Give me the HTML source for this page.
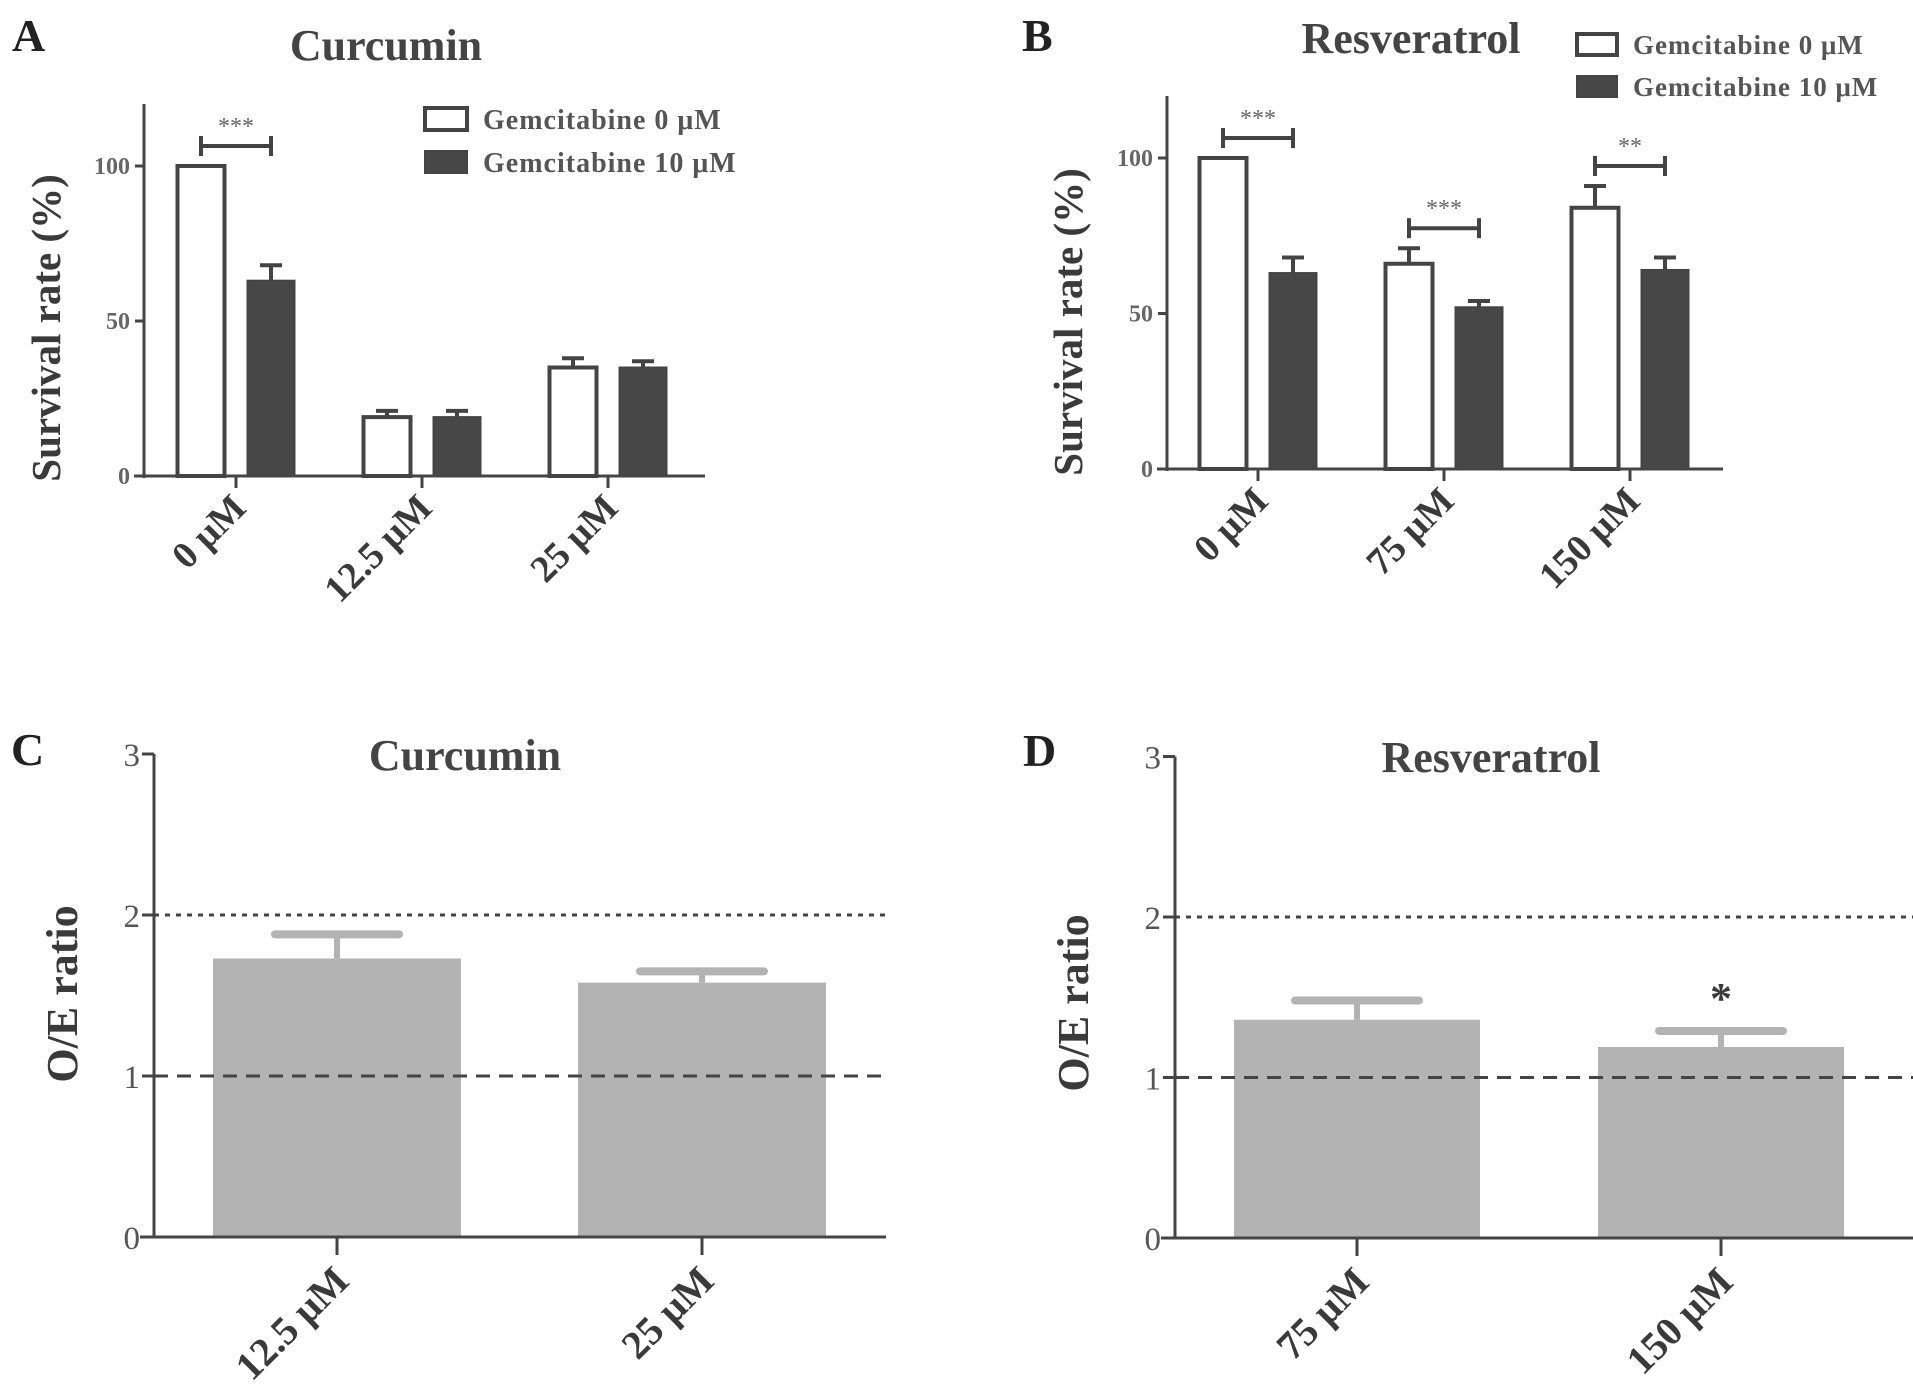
<!DOCTYPE html>
<html><head><meta charset="utf-8"><style>
html,body{margin:0;padding:0;background:#fff;width:1913px;height:1400px;overflow:hidden}
svg{display:block}
text{font-family:"Liberation Serif",serif;font-weight:bold;fill:#3a3a3a}
</style></head><body>
<svg id="fig" width="1913" height="1400" viewBox="0 0 1913 1400" xmlns="http://www.w3.org/2000/svg"></svg>
<script>
// Panel A data
const aCategories = ["0 μM", "12.5 μM", "25 μM"];
const aGem0 = [100, 19, 35];
const aGem0Err = [0, 2, 3];
const aGem10 = [63, 19, 35];
const aGem10Err = [5, 2, 2];
const aTicks = [0, 50, 100];
const aSig = ["***", "", ""];
// Panel B data
const bCategories = ["0 μM", "75 μM", "150 μM"];
const bGem0 = [100, 66, 84];
const bGem0Err = [0, 5, 7];
const bGem10 = [63, 52, 64];
const bGem10Err = [5, 2, 4];
const bTicks = [0, 50, 100];
const bSig = ["***", "***", "**"];
// Panel C data
const cCategories = ["12.5 μM", "25 μM"];
const cValues = [1.73, 1.58];
const cErr = [0.15, 0.07];
const cTicks = [0, 1, 2, 3];
// Panel D data
const dCategories = ["75 μM", "150 μM"];
const dValues = [1.36, 1.19];
const dErr = [0.12, 0.10];
const dTicks = [0, 1, 2, 3];
const dSig = ["", "*"];

const NS = "http://www.w3.org/2000/svg";
const svg = document.getElementById("fig");
function mk(tag, attrs, parent) {
  const e = document.createElementNS(NS, tag);
  for (const k in attrs) e.setAttribute(k, attrs[k]);
  (parent || svg).appendChild(e);
  return e;
}
function txt(s, attrs, parent) { const t = mk("text", attrs, parent); t.textContent = s; return t; }

function groupedPanel(cfg) {
  const g = mk("g", {});
  
  
  const y = v => cfg.y0 - (v / cfg.ymax) * (cfg.y0 - cfg.yTopVal);
  const x = i => cfg.x0 + i * cfg.step;
  const ya = mk("line", {x1: cfg.ax, y1: cfg.axTop, x2: cfg.ax, y2: cfg.y0 + 2, stroke: "#444", "stroke-width": 3}, g);
  
  
  const xa = mk("line", {x1: cfg.ax - 10, y1: cfg.y0, x2: cfg.axEnd, y2: cfg.y0, stroke: "#444", "stroke-width": 3}, g);
  
  
  cfg.ticks.forEach(t => {
    mk("line", {x1: cfg.ax - 9, y1: y(t), x2: cfg.ax, y2: y(t), stroke: "#444", "stroke-width": 3}, g);
    const tl = txt(String(t), {x: cfg.ax - 14, y: y(t) + 8, "text-anchor": "end", "font-size": 24, style: "fill:#666"}, g);
    
    
  });
  cfg.cats.forEach((c, i) => {
    const cx = x(i);
    mk("line", {x1: cx, y1: cfg.y0, x2: cx, y2: cfg.y0 + 12, stroke: "#444", "stroke-width": 3}, g);
    const lab = txt(c, {x: 0, y: 0, "text-anchor": "end", "font-size": 38, transform: `translate(${cx + 12},${cfg.y0 + 34}) rotate(-45)`}, g);
    
    
    const w = cfg.bw;
    const wx = cx - cfg.off - w / 2;
    const e1 = y(cfg.g0[i] + cfg.g0e[i]);
    if (cfg.g0e[i] > 0) {
      mk("line", {x1: wx + w / 2, y1: y(cfg.g0[i]), x2: wx + w / 2, y2: e1, stroke: "#444", "stroke-width": 4}, g);
      mk("line", {x1: wx + w / 2 - 11, y1: e1, x2: wx + w / 2 + 11, y2: e1, stroke: "#444", "stroke-width": 4}, g);
    }
    const b1 = mk("rect", {x: wx, y: y(cfg.g0[i]), width: w, height: cfg.y0 - y(cfg.g0[i]), fill: "#fff", stroke: "#444", "stroke-width": 4}, g);
    
    
    const dx = cx + cfg.off - w / 2;
    const e2 = y(cfg.g10[i] + cfg.g10e[i]);
    mk("line", {x1: dx + w / 2, y1: y(cfg.g10[i]), x2: dx + w / 2, y2: e2, stroke: "#444", "stroke-width": 4}, g);
    mk("line", {x1: dx + w / 2 - 11, y1: e2, x2: dx + w / 2 + 11, y2: e2, stroke: "#444", "stroke-width": 4}, g);
    const b2 = mk("rect", {x: dx, y: y(cfg.g10[i]), width: w, height: cfg.y0 - y(cfg.g10[i]), fill: "#474747", stroke: "#444", "stroke-width": 2}, g);
    
    
    if (cfg.sig[i]) {
      const top = Math.max(cfg.g0[i] + cfg.g0e[i], cfg.g10[i] + cfg.g10e[i]);
      const by = y(top) - 20;
      const x1 = wx + w / 2, x2 = dx + w / 2;
      const sg = mk("g", {}, g);
      
      
      mk("line", {x1: x1, y1: by, x2: x2, y2: by, stroke: "#444", "stroke-width": 4}, sg);
      mk("line", {x1: x1, y1: by - 10, x2: x1, y2: by + 10, stroke: "#444", "stroke-width": 4}, sg);
      mk("line", {x1: x2, y1: by - 10, x2: x2, y2: by + 10, stroke: "#444", "stroke-width": 4}, sg);
      txt(cfg.sig[i], {x: (x1 + x2) / 2, y: by - 12, "text-anchor": "middle", "font-size": 24, style: "fill:#666;font-weight:normal"}, sg);
    }
  });
  return g;
}

function ratioPanel(cfg) {
  const g = mk("g", {});
  
  
  const y = v => cfg.y0 - v * cfg.unit;
  const x = i => cfg.x0 + i * cfg.step;
  cfg.cats.forEach((c, i) => {
    const cx = x(i);
    const top = y(cfg.vals[i] + cfg.err[i]);
    mk("line", {x1: cx, y1: y(cfg.vals[i]), x2: cx, y2: top, stroke: "#b3b3b3", "stroke-width": 6}, g);
    mk("line", {x1: cx - 62, y1: top, x2: cx + 62, y2: top, stroke: "#b3b3b3", "stroke-width": 8, "stroke-linecap": "round"}, g);
    const b = mk("rect", {x: cx - cfg.bw / 2, y: y(cfg.vals[i]), width: cfg.bw, height: cfg.y0 - y(cfg.vals[i]), fill: "#b3b3b3"}, g);
    
    
    mk("line", {x1: cx, y1: cfg.y0, x2: cx, y2: cfg.y0 + 18, stroke: "#444", "stroke-width": 3}, g);
    const lab = txt(c, {x: 0, y: 0, "text-anchor": "end", "font-size": 40, transform: `translate(${cx + 14},${cfg.y0 + 46}) rotate(-45)`}, g);
    
    
    if (cfg.sig && cfg.sig[i]) {
      const s = txt(cfg.sig[i], {x: cx, y: top - 18, "text-anchor": "middle", "font-size": 44}, g);
      
      
    }
  });
  const l2 = mk("line", {x1: cfg.ax, y1: y(2), x2: cfg.axEnd, y2: y(2), stroke: "#444", "stroke-width": 3, "stroke-dasharray": "5 6"}, g);
  
  
  const l1 = mk("line", {x1: cfg.ax, y1: y(1), x2: cfg.axEnd, y2: y(1), stroke: "#444", "stroke-width": 3, "stroke-dasharray": "14 9"}, g);
  
  
  const ya = mk("line", {x1: cfg.ax, y1: y(3), x2: cfg.ax, y2: cfg.y0, stroke: "#444", "stroke-width": 3}, g);
  
  
  const xa = mk("line", {x1: cfg.ax - 14, y1: cfg.y0, x2: cfg.axEnd, y2: cfg.y0, stroke: "#444", "stroke-width": 3}, g);
  
  
  cfg.ticks.forEach(t => {
    mk("line", {x1: cfg.ax - 12, y1: y(t), x2: cfg.ax, y2: y(t), stroke: "#444", "stroke-width": 3}, g);
    const tl = txt(String(t), {x: cfg.ax - 14, y: y(t) + 12, "text-anchor": "end", "font-size": 33, style: "fill:#555;font-weight:normal"}, g);
    
    
  });
}

groupedPanel({name: "panel-a", ax: 144, axTop: 104, axEnd: 705, y0: 476, yTopVal: 166, ymax: 100,
  x0: 236, step: 186, off: 35, bw: 47, cats: aCategories, g0: aGem0, g0e: aGem0Err, g10: aGem10, g10e: aGem10Err, ticks: aTicks, sig: aSig});
groupedPanel({name: "panel-b", ax: 1167, axTop: 96, axEnd: 1723, y0: 469, yTopVal: 158, ymax: 100,
  x0: 1258, step: 186, off: 35, bw: 47, cats: bCategories, g0: bGem0, g0e: bGem0Err, g10: bGem10, g10e: bGem10Err, ticks: bTicks, sig: bSig});
ratioPanel({name: "panel-c", ax: 154, axEnd: 886, y0: 1237, unit: 161, x0: 337, step: 365, bw: 248, cats: cCategories, vals: cValues, err: cErr, ticks: cTicks});
ratioPanel({name: "panel-d", ax: 1175, axEnd: 1913, y0: 1238, unit: 160.5, x0: 1357, step: 364, bw: 246, cats: dCategories, vals: dValues, err: dErr, ticks: dTicks, sig: dSig});

function label(s, a, name) { const t = txt(s, a);   return t; }
label("A", {x: 12, y: 51, "font-size": 46, style: "fill:#222"}, "panel-letter-a");
label("B", {x: 1022, y: 51, "font-size": 46, style: "fill:#222"}, "panel-letter-b");
label("C", {x: 11, y: 765, "font-size": 46, style: "fill:#222"}, "panel-letter-c");
label("D", {x: 1023, y: 766, "font-size": 46, style: "fill:#222"}, "panel-letter-d");
label("Curcumin", {x: 386, y: 60, "text-anchor": "middle", "font-size": 44, style: "fill:#444"}, "title-a");
label("Resveratrol", {x: 1411, y: 53, "text-anchor": "middle", "font-size": 44, style: "fill:#444"}, "title-b");
label("Curcumin", {x: 465, y: 770, "text-anchor": "middle", "font-size": 44, style: "fill:#444"}, "title-c");
label("Resveratrol", {x: 1491, y: 772, "text-anchor": "middle", "font-size": 44, style: "fill:#444"}, "title-d");
label("Survival rate (%)", {x: 0, y: 0, "text-anchor": "middle", "font-size": 41, transform: "translate(60,328) rotate(-90)"}, "y-axis-title-a");
label("Survival rate (%)", {x: 0, y: 0, "text-anchor": "middle", "font-size": 41, transform: "translate(1082,322) rotate(-90)"}, "y-axis-title-b");
label("O/E ratio", {x: 0, y: 0, "text-anchor": "middle", "font-size": 44, transform: "translate(77,994) rotate(-90)"}, "y-axis-title-c");
label("O/E ratio", {x: 0, y: 0, "text-anchor": "middle", "font-size": 44, transform: "translate(1088,1003) rotate(-90)"}, "y-axis-title-d");

function legend(x, y1, y2, w, h, fs, name) {
  const g = mk("g", {});
  
  
  mk("rect", {x: x, y: y1, width: w, height: h, fill: "#fff", stroke: "#444", "stroke-width": 4}, g);
  txt("Gemcitabine 0 μM", {x: x + w + 16, y: y1 + h - 1, "font-size": fs, style: "fill:#555;letter-spacing:1px"}, g);
  mk("rect", {x: x, y: y2, width: w, height: h, fill: "#474747", stroke: "#444", "stroke-width": 2}, g);
  txt("Gemcitabine 10 μM", {x: x + w + 16, y: y2 + h - 1, "font-size": fs, style: "fill:#555;letter-spacing:1px"}, g);
}
legend(425, 108, 151, 42, 22, 28, "legend-a");
legend(1577, 34, 76, 40, 21, 27, "legend-b");
</script>
</body></html>
